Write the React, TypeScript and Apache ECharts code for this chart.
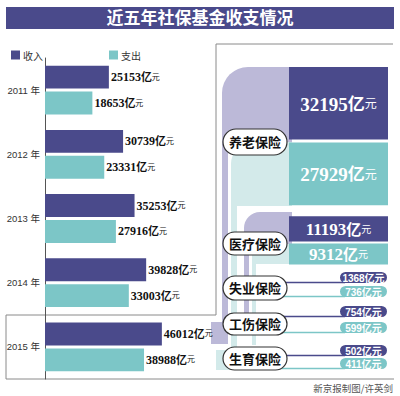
import React, { useEffect, useRef } from "react";
import * as echarts from "echarts";

const years = ["2011 年", "2012 年", "2013 年", "2014 年", "2015 年"];
const income = [25153, 30739, 35253, 39828, 46012];
const expense = [18653, 23331, 27916, 33003, 38988];

const bigNames = ["养老保险", "医疗保险"];
const bigIncome = [32195, 11193];
const bigExpense = [27929, 9312];

const smallNames = ["失业保险", "工伤保险", "生育保险"];
const smallIncome = [1368, 754, 502];
const smallExpense = [736, 599, 411];

const NAVY = "#4a4a8b";
const TEAL = "#7cc6c7";
const PURPLE_L = "#bcb9d8";
const TEAL_L = "#d3eaea";
const SERIF = "'Liberation Serif', 'DejaVu Serif', 'Noto Sans CJK SC', serif";
const SANS = "'Liberation Sans', Arial, 'Noto Sans CJK SC', sans-serif";

export default function App() {
  const ref = useRef<HTMLDivElement>(null);
  useEffect(() => {
    if (!ref.current) return;
    const chart = echarts.init(ref.current, undefined, { renderer: "svg" });

    const boxVals: number[] = [];
    const boxKinds: number[] = [];
    bigIncome.forEach((v, i) => {
      boxVals.push(v, bigExpense[i]);
      boxKinds.push(0, 1);
    });
    let cum = 0;
    const boxData = boxVals.map((v, i) => {
      const d = [0.5, cum, cum + v, v, boxKinds[i]];
      cum += v;
      return d;
    });
    const boxGaps = [0, 3, 14, 16];
    const boxFont = [19, 19, 17, 17];

    const barLabel = {
      show: true,
      position: "right",
      distance: 2,
      formatter: (p: any) => `{n|${p.value}}{y|亿}{u|元}`,
      rich: {
        n: { fontFamily: SERIF, fontWeight: "bold", fontSize: 12, color: "#111" },
        y: { fontFamily: SERIF, fontWeight: "bold", fontSize: 11, color: "#111" },
        u: { fontFamily: SERIF, fontSize: 8, color: "#111" },
      },
    };

    const graphics: any[] = [];
    graphics.push({
      type: "rect",
      shape: { x: 6, y: 7, width: 388, height: 22 },
      style: { fill: NAVY },
      z: 0,
    });
    graphics.push({
      type: "text",
      x: 200,
      y: 18.5,
      style: {
        text: "近五年社保基金收支情况",
        fill: "#fff",
        fontFamily: SERIF,
        fontWeight: "bold",
        fontSize: 17,
        align: "center",
        verticalAlign: "middle",
      },
      z: 1,
    });
    graphics.push({
      type: "polyline",
      shape: { points: [[393, 44], [216, 44], [216, 315], [6, 315], [6, 379], [394, 379]] },
      style: { stroke: "#8a8a8a", lineWidth: 1, fill: null },
      z: 0,
    });
    const pipes = [
      { x: 222, y: 67, w: 70, h: 76, r: [26, 0, 0, 0], c: PURPLE_L },
      { x: 222, y: 140, w: 6, h: 200, r: 0, c: PURPLE_L },
      { x: 211, y: 322, w: 17, h: 22, r: 0, c: PURPLE_L },
      { x: 231, y: 142, w: 61, h: 64, r: [22, 0, 0, 0], c: TEAL_L },
      { x: 231, y: 200, w: 6, h: 170, r: 0, c: TEAL_L },
      { x: 216, y: 350, w: 21, h: 20, r: 0, c: TEAL_L },
      { x: 244, y: 212, w: 48, h: 32, r: [16, 0, 0, 0], c: PURPLE_L },
      { x: 244, y: 240, w: 5, h: 95, r: 0, c: PURPLE_L },
      { x: 252, y: 244, w: 40, h: 20, r: [10, 0, 0, 0], c: TEAL_L },
      { x: 252, y: 260, w: 4, h: 85, r: 0, c: TEAL_L },
    ];
    pipes.forEach((p) =>
      graphics.push({
        type: "rect",
        shape: { x: p.x, y: p.y, width: p.w, height: p.h, r: p.r },
        style: { fill: p.c },
        z: 1,
      })
    );

    const labelBox = (name: string, top: number, h: number) => {
      graphics.push({
        type: "rect",
        shape: { x: 223, y: top, width: 64, height: h, r: h / 2 },
        style: { fill: "#fff", stroke: "#333", lineWidth: 1.2 },
        z: 20,
      });
      graphics.push({
        type: "text",
        x: 255,
        y: top + h / 2 + 0.5,
        style: {
          text: name,
          fill: "#111",
          fontFamily: SERIF,
          fontWeight: "bold",
          fontSize: 13,
          align: "center",
          verticalAlign: "middle",
        },
        z: 21,
      });
    };
    const bigLabelTops = [129, 232];
    const bigLabelH = [26, 23];
    bigNames.forEach((n, i) => labelBox(n, bigLabelTops[i], bigLabelH[i]));

    const smallLayout = [
      { top: 276, h: 24, inc: 272, exp: 286 },
      { top: 313, h: 22, inc: 306, exp: 322 },
      { top: 347, h: 23, inc: 345, exp: 358 },
    ];
    smallNames.forEach((n, i) => {
      const L = smallLayout[i];
      graphics.push({
        type: "line",
        shape: { x1: 250, y1: L.inc + 10.5, x2: 345, y2: L.inc + 10.5 },
        style: { stroke: NAVY, lineWidth: 1.5 },
        z: 5,
      });
      graphics.push({
        type: "line",
        shape: { x1: 256, y1: L.exp + 10.5, x2: 345, y2: L.exp + 10.5 },
        style: { stroke: TEAL, lineWidth: 1.5 },
        z: 5,
      });
      [
        { y: L.inc, v: smallIncome[i], c: NAVY },
        { y: L.exp, v: smallExpense[i], c: TEAL },
      ].forEach((pp) => {
        graphics.push({
          type: "rect",
          shape: { x: 340, y: pp.y, width: 47, height: 11, r: 5.5 },
          style: { fill: pp.c },
          z: 6,
        });
        graphics.push({
          type: "text",
          x: 363.5,
          y: pp.y + 6,
          style: {
            text: `${pp.v}亿元`,
            fill: "#fff",
            fontFamily: SANS,
            fontWeight: "bold",
            fontSize: 10,
            align: "center",
            verticalAlign: "middle",
          },
          z: 7,
        });
      });
      labelBox(n, L.top, L.h);
    });

    graphics.push({
      type: "text",
      x: 393,
      y: 388,
      style: {
        text: "新京报制图/许英剑",
        fill: "#555",
        fontFamily: "'Noto Sans CJK SC', sans-serif",
        fontSize: 9.5,
        align: "right",
        verticalAlign: "middle",
      },
      z: 1,
    });

    chart.setOption({
      animation: false,
      backgroundColor: "#fff",
      legend: {
        left: 6,
        top: 45,
        itemWidth: 9,
        itemHeight: 9,
        itemGap: 66,
        icon: "rect",
        textStyle: { fontSize: 10, color: "#333", fontFamily: "'Noto Sans CJK SC', sans-serif", padding: [0, 0, 0, -2] },
        data: ["收入", "支出"],
      },
      grid: [
        { left: 45, top: 58, width: 254, height: 321 },
        { left: 289, top: 67, width: 99, height: 225 },
      ],
      xAxis: [
        { type: "value", gridIndex: 0, min: 0, max: 100000, show: false },
        { type: "value", gridIndex: 1, min: 0, max: 1, show: false },
      ],
      yAxis: [
        {
          type: "category",
          gridIndex: 0,
          inverse: true,
          data: years,
          axisLine: { show: true, lineStyle: { color: "#555", width: 1 } },
          axisTick: { show: false },
          axisLabel: { fontSize: 9.5, color: "#333", margin: 5, fontFamily: SANS },
        },
        { type: "value", gridIndex: 1, min: 0, max: 100000, inverse: true, show: false },
      ],
      graphic: { elements: graphics },
      series: [
        {
          name: "收入",
          type: "bar",
          xAxisIndex: 0,
          yAxisIndex: 0,
          data: income,
          itemStyle: { color: NAVY },
          barGap: "13%",
          barCategoryGap: "24%",
          label: barLabel,
          z: 3,
        },
        {
          name: "支出",
          type: "bar",
          xAxisIndex: 0,
          yAxisIndex: 0,
          data: expense,
          itemStyle: { color: TEAL },
          barGap: "13%",
          barCategoryGap: "24%",
          label: barLabel,
          z: 3,
        },
        {
          type: "custom",
          xAxisIndex: 1,
          yAxisIndex: 1,
          data: boxData,
          encode: { x: 0, y: [1, 2] },
          z: 4,
          renderItem: (params: any, api: any) => {
            const i = params.dataIndex;
            const cs = params.coordSys;
            const gap = boxGaps[i];
            const y0 = api.coord([0.5, api.value(1)])[1] + gap;
            const y1 = api.coord([0.5, api.value(2)])[1] + gap;
            const kind = api.value(4);
            const fs = boxFont[i];
            return {
              type: "group",
              children: [
                {
                  type: "rect",
                  shape: { x: cs.x, y: y0, width: cs.width, height: y1 - y0 },
                  style: { fill: kind === 0 ? NAVY : TEAL },
                },
                {
                  type: "text",
                  style: {
                    text: `{n|${api.value(3)}}{y|亿}{u|元}`,
                    x: cs.x + cs.width / 2,
                    y: (y0 + y1) / 2 + 1,
                    align: "center",
                    verticalAlign: "middle",
                    rich: {
                      n: { fontFamily: SERIF, fontWeight: "bold", fontSize: fs, fill: "#fff", color: "#fff" },
                      y: { fontFamily: SERIF, fontWeight: "bold", fontSize: fs - 2, fill: "#fff", color: "#fff" },
                      u: { fontFamily: SERIF, fontSize: fs - 7, fill: "#fff", color: "#fff" },
                    },
                  },
                },
              ],
            };
          },
        },
      ],
    });
    return () => chart.dispose();
  }, []);
  return (
    <div
      ref={ref}
      style={{ position: "fixed", left: 0, top: 0, width: 400, height: 396 }}
    />
  );
}
